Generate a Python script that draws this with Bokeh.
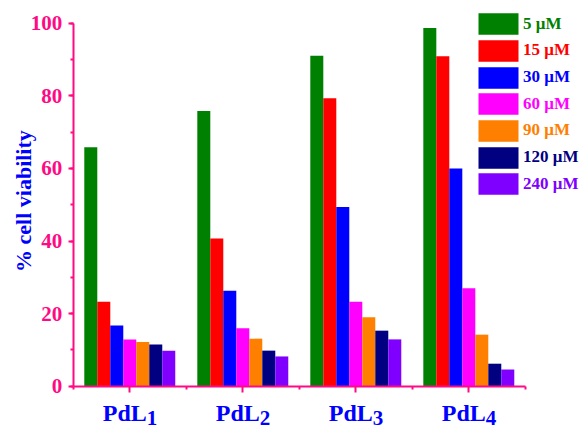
from bokeh.plotting import figure
from bokeh.models import (Range1d, FixedTicker, SingleIntervalTicker, LabelSet, Label,
                          Legend, LegendItem, ColumnDataSource)
from bokeh.embed import file_html
from bokeh.resources import INLINE
import math

# ---- data ----
compounds = ["PdL", "PdL", "PdL", "PdL"]
subscripts = ["1", "2", "3", "4"]
concentrations = ["5 μM", "15 μM", "30 μM", "60 μM", "90 μM", "120 μM", "240 μM"]
v5 = [65.8, 75.8, 91.0, 98.7]
v15 = [23.3, 40.7, 79.3, 90.9]
v30 = [16.7, 26.3, 49.4, 60.0]
v60 = [12.9, 16.0, 23.3, 27.0]
v90 = [12.2, 13.1, 19.0, 14.2]
v120 = [11.5, 9.8, 15.3, 6.2]
v240 = [9.8, 8.2, 12.9, 4.6]
series = [v5, v15, v30, v60, v90, v120, v240]
colors = ["#008000", "#ff0000", "#0000ff", "#ff00ff", "#ff8000", "#000080", "#8000ff"]
y_ticks_interval = 20

PINK = "#ff0a84"
BLUE = "#0000ff"
FONT = "Liberation Serif"

# frame fills the whole canvas; axes are placed at fixed data locations
p = figure(width=583, height=430, output_backend="svg", toolbar_location=None,
           x_range=Range1d(-0.144, 5.015), y_range=Range1d(-12.2, 106.25),
           min_border_left=0, min_border_right=0, min_border_top=0, min_border_bottom=0)
p.outline_line_color = None
p.grid.visible = False
p.background_fill_color = "white"
p.border_fill_color = "white"

bw = 0.115
positions = [i + 1 for i in range(len(subscripts))]
renderers = []
for j, (vals, col) in enumerate(zip(series, colors)):
    src = ColumnDataSource(dict(x=[x + (j - 3) * bw for x in positions], top=vals))
    r = p.vbar(x="x", top="top", width=bw, bottom=0, source=src,
               fill_color=col, line_color=None)
    renderers.append(r)

# axes
xa = p.xaxis[0]
ya = p.yaxis[0]
xa.fixed_location = 0
xa.bounds = (0.5, 4.5)
ya.fixed_location = 0.5
ya.bounds = (0, 100)

xa.ticker = FixedTicker(ticks=positions, minor_ticks=[0.5, 1.5, 2.5, 3.5, 4.5])
xa.major_label_text_font_size = "0px"
xa.major_label_text_color = None
for ax in (xa, ya):
    ax.axis_line_color = PINK
    ax.axis_line_width = 2
    ax.major_tick_line_color = PINK
    ax.minor_tick_line_color = PINK
    ax.major_tick_line_width = 2
    ax.minor_tick_line_width = 2
    ax.major_tick_in = 0
    ax.minor_tick_in = 0
xa.major_tick_out = 6
xa.minor_tick_out = 3

ya.ticker = SingleIntervalTicker(interval=y_ticks_interval, num_minor_ticks=2)
ya.major_tick_out = 5
ya.minor_tick_out = 3
ya.major_label_text_font = FONT
ya.major_label_text_font_style = "bold"
ya.major_label_text_font_size = "21px"
ya.major_label_text_color = PINK
ya.major_label_standoff = 6

# y axis title
p.add_layout(Label(x=23, x_units="screen", y=51, y_units="data", text="% cell viability",
                   angle=math.pi / 2, text_align="center", text_baseline="middle",
                   text_font=FONT, text_font_style="bold", text_font_size="22px",
                   text_color=BLUE))

# category labels with subscripts
lsrc = ColumnDataSource(dict(x=positions, y=[0] * 4, main=compounds, sub=subscripts))
p.add_layout(LabelSet(x="x", y="y", text="main", source=lsrc, x_offset=17, y_offset=-35,
                      text_align="right", text_baseline="alphabetic",
                      text_font=FONT, text_font_style="bold", text_font_size="24px",
                      text_color=BLUE))
p.add_layout(LabelSet(x="x", y="y", text="sub", source=lsrc, x_offset=17, y_offset=-39,
                      text_align="left", text_baseline="alphabetic",
                      text_font=FONT, text_font_style="bold", text_font_size="21px",
                      text_color=BLUE))

# legends, one per item so that each label has its own colour
for k, (lab, col, r) in enumerate(zip(concentrations, colors, renderers)):
    lg = Legend(items=[LegendItem(label=lab, renderers=[r])],
                location=(473, 392.7 - 26.67 * k),
                glyph_width=50, glyph_height=27, label_height=27, label_standoff=0,
                padding=0, margin=0, spacing=0,
                border_line_color=None, background_fill_alpha=0,
                label_text_font=FONT, label_text_font_style="bold",
                label_text_font_size="17px", label_text_color=col)
    p.add_layout(lg)

open("out.html", "w").write(file_html(p, INLINE))
